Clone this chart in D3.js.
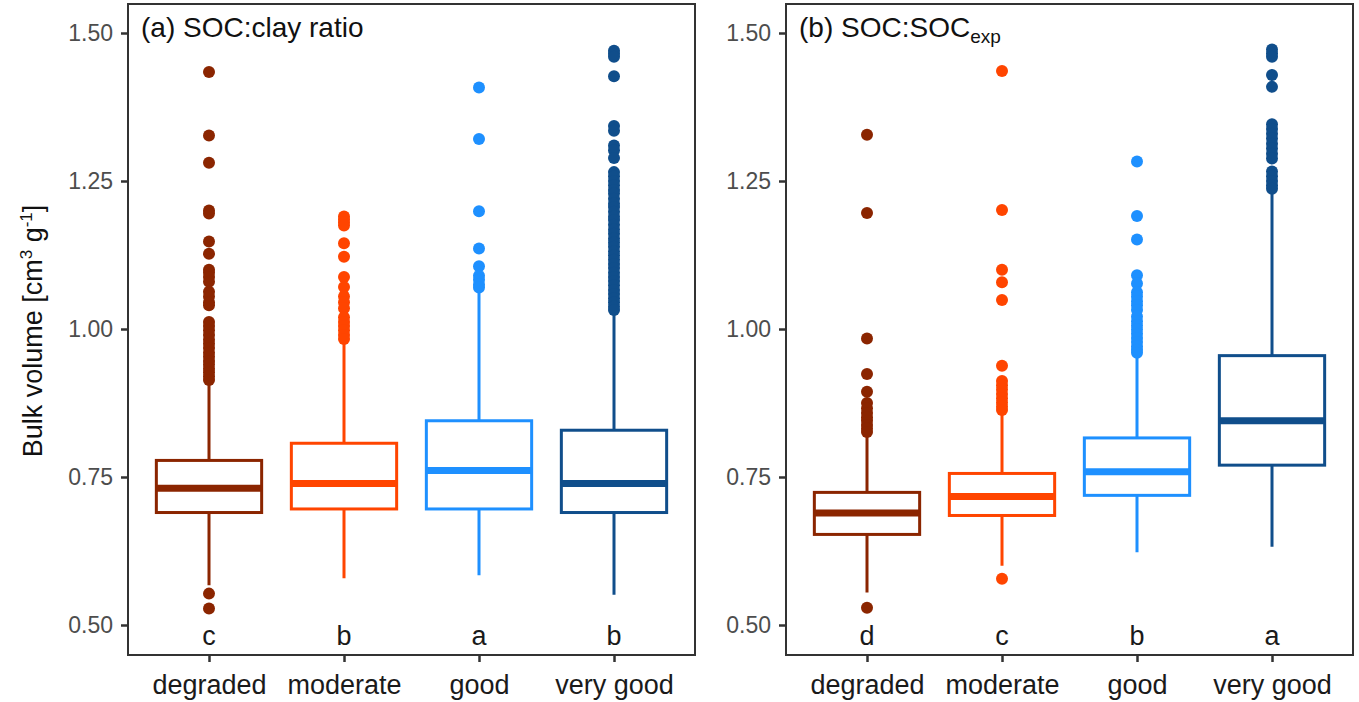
<!DOCTYPE html>
<html>
<head>
<meta charset="utf-8">
<script src="https://cdn.jsdelivr.net/npm/d3@7"></script>
<style>
  body { margin: 0; background: #fff; }
  text { font-family: "Liberation Sans", Arial, sans-serif; }
</style>
</head>
<body>
<script>
const categories = ["degraded", "moderate", "good", "very good"];
const colors = ["#8B2500", "#FF4500", "#1E90FF", "#104E8B"];
const yTicks = [0.50, 0.75, 1.00, 1.25, 1.50];

// (a) SOC:clay ratio
const clayLower  = [0.567, 0.579, 0.584, 0.551];
const clayQ1     = [0.690, 0.696, 0.696, 0.690];
const clayMedian = [0.731, 0.739, 0.761, 0.739];
const clayQ3     = [0.778, 0.807, 0.845, 0.829];
const clayUpper  = [0.912, 0.975, 1.066, 1.027];
const clayLetters = ["c", "b", "a", "b"];
const clayOutliers = [
  [1.434, 1.327, 1.281, 1.200, 1.195, 1.148, 1.127, 1.100, 1.095, 1.088, 1.080, 1.063, 1.055,
   1.045, 1.040, 1.012, 1.005, 0.998, 0.990, 0.982, 0.975, 0.968, 0.960, 0.953, 0.946, 0.940,
   0.933, 0.927, 0.920, 0.914, 0.553, 0.528],
  [1.190, 1.185, 1.180, 1.175, 1.145, 1.122, 1.088, 1.071, 1.055, 1.045, 1.035, 1.020, 1.012,
   1.005, 0.998, 0.990, 0.983],
  [1.408, 1.321, 1.199, 1.136, 1.106, 1.090, 1.083, 1.075, 1.070],
  [1.470, 1.465, 1.460, 1.427, 1.343, 1.335, 1.310, 1.302, 1.289, 1.265, 1.258, 1.250, 1.243,
   1.235, 1.229, 1.220, 1.212, 1.206, 1.198, 1.190, 1.184, 1.176, 1.168, 1.161, 1.153, 1.146,
   1.139, 1.131, 1.124, 1.117, 1.110, 1.103, 1.095, 1.088, 1.081, 1.074, 1.066, 1.059, 1.052,
   1.045, 1.038, 1.032]
];

// (b) SOC:SOCexp
const expLower  = [0.555, 0.600, 0.623, 0.632];
const expQ1     = [0.653, 0.685, 0.719, 0.770];
const expMedian = [0.689, 0.717, 0.759, 0.845];
const expQ3     = [0.724, 0.756, 0.816, 0.955];
const expUpper  = [0.821, 0.858, 0.956, 1.232];
const expLetters = ["d", "c", "b", "a"];
const expOutliers = [
  [1.328, 1.196, 0.984, 0.924, 0.894, 0.875, 0.866, 0.858, 0.851, 0.845, 0.838, 0.832, 0.826, 0.529],
  [1.436, 1.201, 1.100, 1.079, 1.049, 0.938, 0.912, 0.905, 0.898, 0.890, 0.883, 0.876, 0.869,
   0.863, 0.578],
  [1.283, 1.191, 1.151, 1.091, 1.077, 1.062, 1.055, 1.047, 1.040, 1.032, 1.021, 1.013, 1.006,
   0.999, 0.992, 0.985, 0.978, 0.971, 0.965, 0.960],
  [1.472, 1.466, 1.460, 1.429, 1.409, 1.346, 1.338, 1.330, 1.322, 1.313, 1.305, 1.296, 1.288,
   1.266, 1.258, 1.250, 1.243, 1.237]
];

const width = 1359;
const height = 702;
const panelTop = 4, panelBottom = 655;

const svg = d3.select("body").append("svg")
    .attr("width", width)
    .attr("height", height);

const y = d3.scaleLinear()
    .domain([0.5, 1.5])
    .range([625, 33]);

const panels = [
  {left: 128, right: 695, lower: clayLower, q1: clayQ1, median: clayMedian, q3: clayQ3,
   upper: clayUpper, letters: clayLetters, outliers: clayOutliers, title: "(a) SOC:clay ratio"},
  {left: 786, right: 1353, lower: expLower, q1: expQ1, median: expMedian, q3: expQ3,
   upper: expUpper, letters: expLetters, outliers: expOutliers, title: "(b) SOC:SOC", sub: "exp"}
];

panels.forEach(p => {
  const x = d3.scalePoint()
      .domain(categories)
      .range([p.left, p.right])
      .padding(0.6);
  const boxW = x.step() * 0.78;

  const rows = categories.map((c, i) => ({
    cat: c, color: colors[i], lower: p.lower[i], q1: p.q1[i], median: p.median[i],
    q3: p.q3[i], upper: p.upper[i], letter: p.letters[i], outliers: p.outliers[i]
  }));

  const g = svg.append("g");

  // whiskers
  g.selectAll(".whisker")
    .data(rows)
    .join("path")
      .attr("fill", "none")
      .attr("stroke", d => d.color)
      .attr("stroke-width", 3)
      .attr("d", d => `M${x(d.cat)},${y(d.upper)}V${y(d.q3)}M${x(d.cat)},${y(d.q1)}V${y(d.lower)}`);

  // boxes
  g.selectAll(".box")
    .data(rows)
    .join("rect")
      .attr("x", d => x(d.cat) - boxW / 2)
      .attr("width", boxW)
      .attr("y", d => y(d.q3))
      .attr("height", d => y(d.q1) - y(d.q3))
      .attr("fill", "#fff")
      .attr("stroke", d => d.color)
      .attr("stroke-width", 3);

  // medians
  g.selectAll(".median")
    .data(rows)
    .join("line")
      .attr("x1", d => x(d.cat) - boxW / 2)
      .attr("x2", d => x(d.cat) + boxW / 2)
      .attr("y1", d => y(d.median))
      .attr("y2", d => y(d.median))
      .attr("stroke", d => d.color)
      .attr("stroke-width", 7);

  // outliers
  g.selectAll(".out")
    .data(rows.flatMap(d => d.outliers.map(v => ({cat: d.cat, color: d.color, v}))))
    .join("circle")
      .attr("cx", d => x(d.cat))
      .attr("cy", d => y(d.v))
      .attr("r", 6)
      .attr("fill", d => d.color);

  // significance letters
  g.selectAll(".letter")
    .data(rows)
    .join("text")
      .attr("x", d => x(d.cat))
      .attr("y", y(0.5) + 20)
      .attr("text-anchor", "middle")
      .attr("font-size", 27)
      .attr("fill", "#1a1a1a")
      .text(d => d.letter);

  // frame
  svg.append("rect")
      .attr("x", p.left)
      .attr("y", panelTop)
      .attr("width", p.right - p.left)
      .attr("height", panelBottom - panelTop)
      .attr("fill", "none")
      .attr("stroke", "#333")
      .attr("stroke-width", 2);

  // axes
  svg.append("g")
      .attr("transform", `translate(${p.left},0)`)
      .call(d3.axisLeft(y).tickValues(yTicks).tickFormat(d3.format(".2f")).tickSize(7).tickPadding(8))
      .call(g => g.select(".domain").remove())
      .call(g => g.selectAll(".tick line").attr("stroke", "#333").attr("stroke-width", 2.5))
      .call(g => g.selectAll(".tick text")
          .attr("font-size", 23)
          .attr("font-family", "Liberation Sans, Arial, sans-serif")
          .attr("fill", "#4d4d4d"));

  svg.append("g")
      .attr("transform", `translate(0,${panelBottom})`)
      .call(d3.axisBottom(x).tickSize(7).tickPadding(13))
      .call(g => g.select(".domain").remove())
      .call(g => g.selectAll(".tick line").attr("stroke", "#333").attr("stroke-width", 2.5))
      .call(g => g.selectAll(".tick text")
          .attr("font-size", 27)
          .attr("font-family", "Liberation Sans, Arial, sans-serif")
          .attr("fill", "#1a1a1a"));

  // panel title
  const t = svg.append("text")
      .attr("x", p.left + 13)
      .attr("y", 37)
      .attr("font-size", 28)
      .attr("fill", "#111")
      .text(p.title);
  if (p.sub) {
    t.append("tspan")
        .attr("font-size", 19)
        .attr("dy", 6)
        .text(p.sub);
  }
});

// y axis title
const ylab = svg.append("text")
    .attr("transform", "translate(42,331) rotate(-90)")
    .attr("text-anchor", "middle")
    .attr("font-size", 27)
    .attr("fill", "#111");
ylab.append("tspan").text("Bulk volume [cm");
ylab.append("tspan").attr("font-size", 17).attr("dy", -10).text("3");
ylab.append("tspan").attr("dy", 10).text(" g");
ylab.append("tspan").attr("font-size", 17).attr("dy", -10).text("-1");
ylab.append("tspan").attr("dy", 10).text("]");
</script>
</body>
</html>
